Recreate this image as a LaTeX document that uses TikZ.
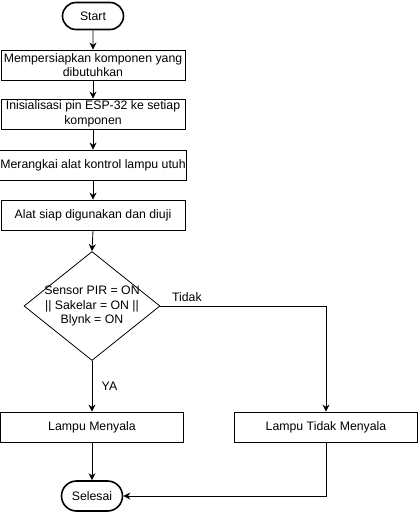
\documentclass[tikz,border=0pt]{standalone}
\usepackage{fontspec}
\setmainfont{Liberation Sans}
\usetikzlibrary{shapes.geometric, shapes.misc, arrows.meta, positioning}

\begin{document}
\begin{tikzpicture}[
  x=1pt, y=1pt,
  every node/.style={font=\fontsize{12.3pt}{14.5pt}\selectfont},
  terminal/.style={draw, rounded rectangle, line width=1.6pt, minimum width=65pt, inner sep=2pt},
  procbox/.style={draw, line width=0.8pt, rectangle, minimum width=184pt, minimum height=30pt, align=center, inner sep=1pt},
  decision/.style={draw, line width=0.8pt, diamond, minimum width=136pt, minimum height=109pt, inner sep=0pt},
  flow/.style={draw, line width=0.8pt, -{Stealth[length=7pt, width=7pt]}}
]
  \useasboundingbox (0,0) rectangle (418,-512);

  \node[terminal, minimum height=27pt] (start) at (93,-16) {Start};
  \node[procbox] (siap) at (93,-65) {Mempersiapkan komponen yang\\dibutuhkan};
  \node[procbox] (init) at (93,-114) {Inisialisasi pin ESP-32 ke setiap\\komponen};
  \node[procbox] (rangkai) at (93,-165) {Merangkai alat kontrol lampu utuh};
  \node[procbox] (uji) at (93,-215) {Alat siap digunakan dan diuji};

  \node[decision, label={[align=center]center:Sensor PIR = ON\\{||} Sakelar = ON {||}\\Blynk = ON}] (cek) at (92,-306) {};

  \node[procbox, minimum width=183pt] (nyala) at (92,-427) {Lampu Menyala};
  \node[procbox, minimum width=183pt] (mati) at (326,-427) {Lampu Tidak Menyala};
  \node[terminal, minimum height=30pt] (selesai) at (92,-496) {Selesai};

  % alur utama
  \draw[flow] (start) -- (siap);
  \draw[flow] (siap) -- (init);
  \draw[flow] (init) -- (rangkai);
  \draw[flow] (rangkai) -- (uji);
  \draw[flow] (uji.south) -- (cek.north);

  % percabangan
  \draw[flow] (cek.south) -- node[right=6pt] {YA} (nyala.north);
  \draw[flow] (cek.east) -| node[pos=0.08, above=1pt] {Tidak} (mati.north);

  \draw[flow] (nyala) -- (selesai);
  \draw[flow] (mati.south) |- (selesai.east);
\end{tikzpicture}
\end{document}
